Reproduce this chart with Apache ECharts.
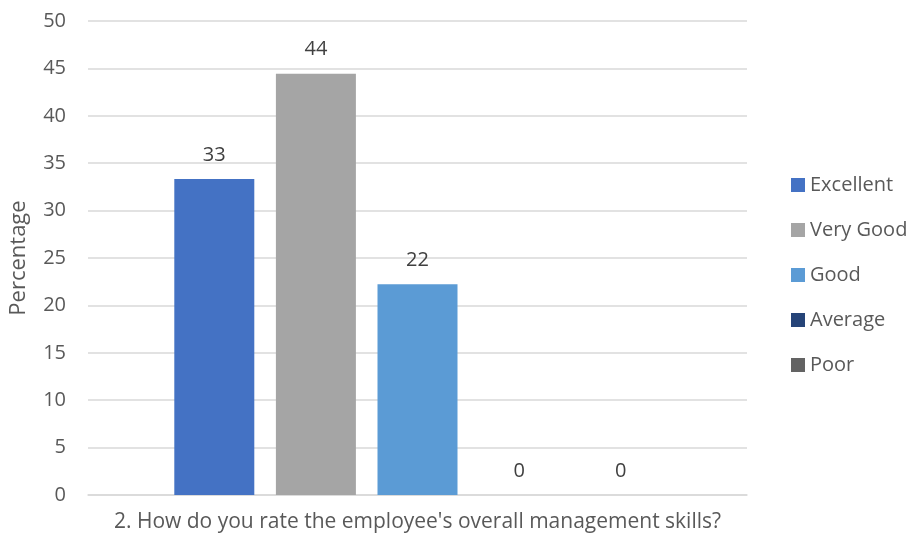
<!DOCTYPE html>
<html><head><meta charset="utf-8">
<script src="https://cdn.jsdelivr.net/npm/echarts@6/dist/echarts.min.js"></script>
<style>html,body{margin:0;padding:0;background:#fff}#c{width:912px;height:540px}</style>
</head><body><div id="c"></div>
<script>
const categories = ["2. How do you rate the employee's overall management skills?"];
const seriesNames = ["Excellent", "Very Good", "Good", "Average", "Poor"];
const seriesValues = [[33.33], [44.44], [22.22], [0], [0]];
const colors = ["#4472C4", "#A5A5A5", "#5B9BD5", "#264478", "#636363"];
const yTicks = {min: 0, max: 50, interval: 5};
const F = "Open Sans";
const chart = echarts.init(document.getElementById('c'));
chart.setOption({
  animation: false,
  textStyle: {fontFamily: F},
  grid: {left: 88, right: 165, top: 21, bottom: 45, containLabel: false, outerBoundsMode: 'none'},
  legend: {
    orient: 'vertical', left: 786, top: 170, itemGap: 25, itemWidth: 14, itemHeight: 14,
    icon: 'rect',
    textStyle: {fontFamily: F, fontSize: 20, color: '#595959', padding: [0, 0, 0, 0]},
    data: seriesNames
  },
  xAxis: {
    type: 'category', data: categories,
    axisLine: {lineStyle: {color: '#D9D9D9', width: 1.5}},
    axisTick: {show: false},
    axisLabel: {fontFamily: F, fontSize: 21, color: '#595959', margin: 17}
  },
  yAxis: {
    type: 'value', min: yTicks.min, max: yTicks.max, interval: yTicks.interval,
    name: 'Percentage', nameLocation: 'middle', nameGap: 58, nameRotate: 90,
    nameTextStyle: {fontFamily: F, fontSize: 22, color: '#595959'},
    axisLine: {show: false}, axisTick: {show: false},
    axisLabel: {fontFamily: F, fontSize: 20, color: '#595959', margin: 22},
    splitLine: {lineStyle: {color: '#D9D9D9', width: 1.5}}
  },
  series: seriesNames.map((n, i) => ({
    name: n, type: 'bar', data: seriesValues[i], barWidth: 80, barGap: '27%',
    itemStyle: {color: colors[i]},
    label: {show: true, position: 'top', distance: 14, fontFamily: F, fontSize: 20, color: '#404040',
      formatter: p => Math.round(p.value)}
  }))
});
</script></body></html>
